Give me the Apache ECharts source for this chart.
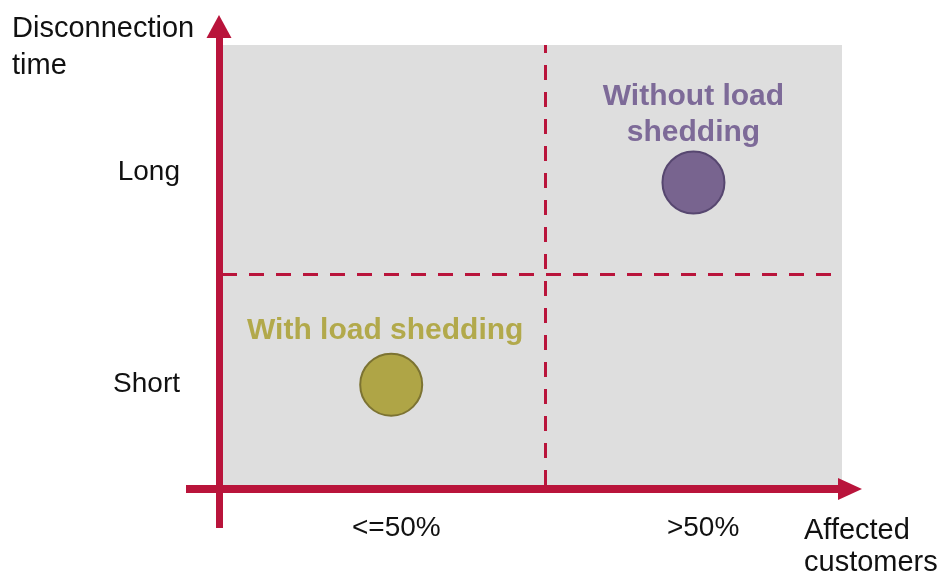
<!DOCTYPE html>
<html>
<head>
<meta charset="utf-8">
<title>Load shedding quadrant</title>
<script src="https://cdn.jsdelivr.net/npm/echarts@6/dist/echarts.min.js"></script>
<style>
  html, body { margin: 0; padding: 0; background: #ffffff; }
  #chart { width: 943px; height: 581px; }
</style>
</head>
<body>
<div id="chart"></div>
<script>
// Quadrant axes: share of affected customers (x) and disconnection time (y)
const xCategories = ['<=50%', '>50%'];
const xCategoryAt = [27, 74.5];
const yCategories = ['Short', 'Long'];
const yCategoryAt = [23, 71];

// Boundaries between the quadrants
const xThreshold = 50;
const yThreshold = 48;

// Scenarios
const scenarioNames = ['With load shedding', 'Without load shedding'];
const affectedShare = [26.2, 73.0];
const disconnectionTime = [22.8, 68.75];

const RED = '#b9143b';
const FONT = "'Liberation Sans', Arial, sans-serif";

const scenarioStyle = [
  { fill: '#afa546', border: '#7c7332', text: '#b2a94b', labelDistance: 4, labelOffset: [-6, 0] },
  { fill: '#78648f', border: '#574770', text: '#7d6a98', labelDistance: 0, labelOffset: [0, 0] }
];

const chart = echarts.init(document.getElementById('chart'), null, { renderer: 'canvas' });

const series = scenarioNames.map((name, i) => ({
  name: name,
  type: 'scatter',
  xAxisIndex: 0,
  yAxisIndex: 0,
  symbol: 'circle',
  symbolSize: 62,
  z: 5,
  itemStyle: {
    color: scenarioStyle[i].fill,
    borderColor: scenarioStyle[i].border,
    borderWidth: 2,
    opacity: 1
  },
  label: {
    show: true,
    position: 'top',
    distance: scenarioStyle[i].labelDistance,
    offset: scenarioStyle[i].labelOffset,
    formatter: i === 1 ? 'Without load\nshedding' : name,
    color: scenarioStyle[i].text,
    fontFamily: FONT,
    fontWeight: 'bold',
    fontSize: 30,
    lineHeight: 36,
    align: 'center'
  },
  emphasis: { disabled: true },
  data: [[affectedShare[i], disconnectionTime[i]]],
  markLine: i === 0 ? {
    silent: true,
    symbol: ['none', 'none'],
    label: { show: false },
    lineStyle: { color: RED, width: 3, type: [15, 12], opacity: 1 },
    emphasis: { disabled: true },
    data: [{ xAxis: xThreshold }, { yAxis: yThreshold }]
  } : undefined
}));

const option = {
  animation: false,
  backgroundColor: '#ffffff',
  title: [
    {
      text: 'Disconnection\ntime',
      left: 12, top: 10, padding: 0,
      textStyle: { fontFamily: FONT, fontSize: 29, fontWeight: 'normal', color: '#111111', lineHeight: 37 }
    },
    {
      text: 'Affected\ncustomers',
      left: 804, top: 515, padding: 0,
      textStyle: { fontFamily: FONT, fontSize: 29, fontWeight: 'normal', color: '#111111', lineHeight: 32 }
    }
  ],
  grid: [
    // plotting area (grey field)
    { left: 222, right: 101, top: 45, bottom: 96, show: true, backgroundColor: '#dedede', borderWidth: 0, outerBoundsMode: 'none', containLabel: false },
    // vertical arrow axis
    { left: 219, width: 20, top: 26.5, bottom: 53, show: false, outerBoundsMode: 'none', containLabel: false },
    // horizontal arrow axis
    { left: 186, right: 93, top: 300, bottom: 92, show: false, outerBoundsMode: 'none', containLabel: false }
  ],
  xAxis: [
    {
      gridIndex: 0, type: 'value', min: 0, max: 96,
      axisLine: { show: false }, axisTick: { show: false }, splitLine: { show: false },
      axisLabel: {
        show: true,
        customValues: xCategoryAt,
        formatter: (v) => { const k = xCategoryAt.indexOf(v); return k >= 0 ? xCategories[k] : ''; },
        margin: 29,
        fontFamily: FONT, fontSize: 28, color: '#111111'
      }
    },
    {
      gridIndex: 1, type: 'value', min: 0, max: 1, show: false
    },
    {
      gridIndex: 2, type: 'value', min: 0, max: 1, position: 'bottom',
      axisLine: { show: true, symbol: ['none', 'triangle'], symbolSize: [22, 24], lineStyle: { color: RED, width: 8, cap: 'butt' } },
      axisTick: { show: false }, axisLabel: { show: false }, splitLine: { show: false }
    }
  ],
  yAxis: [
    {
      gridIndex: 0, type: 'value', min: 0, max: 100,
      axisLine: { show: false }, axisTick: { show: false }, splitLine: { show: false },
      axisLabel: {
        show: true,
        customValues: yCategoryAt,
        formatter: (v) => { const k = yCategoryAt.indexOf(v); return k >= 0 ? yCategories[k] : ''; },
        margin: 42,
        fontFamily: FONT, fontSize: 28, color: '#111111'
      }
    },
    {
      gridIndex: 1, type: 'value', min: 0, max: 1, position: 'left',
      axisLine: { show: true, symbol: ['none', 'triangle'], symbolSize: [25, 23], lineStyle: { color: RED, width: 7, cap: 'butt' } },
      axisTick: { show: false }, axisLabel: { show: false }, splitLine: { show: false }
    },
    {
      gridIndex: 2, type: 'value', min: 0, max: 1, show: false
    }
  ],
  series: series
};

chart.setOption(option);
</script>
</body>
</html>
